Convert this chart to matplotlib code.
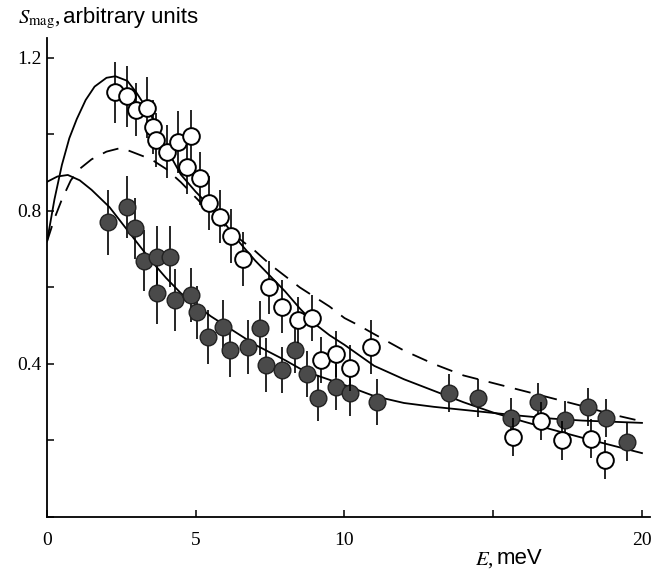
import matplotlib
matplotlib.use("Agg")
import matplotlib.pyplot as plt

plt.rcParams['font.family'] = ['Liberation Serif', 'DejaVu Serif']
plt.rcParams['mathtext.fontset'] = 'stix'

# open circles (E in meV, S_mag)
open_E = [2.3, 2.7, 3.0, 3.35, 3.55, 3.65, 4.05, 4.4, 4.85, 4.7, 5.15, 5.45, 5.8, 6.2,
          6.6, 7.45, 7.9, 8.45, 8.9, 9.2, 9.7, 10.2, 10.9, 15.65, 16.6, 17.3, 18.3, 18.75]
open_S = [1.11, 1.10, 1.065, 1.07, 1.02, 0.985, 0.955, 0.98, 0.995, 0.915, 0.885, 0.82,
          0.785, 0.735, 0.675, 0.60, 0.55, 0.515, 0.52, 0.41, 0.425, 0.39, 0.445, 0.21,
          0.25, 0.20, 0.205, 0.15]
open_err = [0.08, 0.08, 0.07, 0.08, 0.07, 0.07, 0.07, 0.08, 0.07, 0.07, 0.07, 0.07, 0.07,
            0.07, 0.07, 0.07, 0.07, 0.06, 0.06, 0.06, 0.06, 0.06, 0.07, 0.05, 0.05, 0.05,
            0.05, 0.05]

# filled circles
filled_E = [2.05, 2.7, 2.95, 3.25, 3.7, 4.15, 3.7, 4.3, 4.85, 5.05, 5.4, 5.9, 6.15, 6.75,
            7.15, 7.35, 7.9, 8.35, 8.75, 9.1, 9.7, 10.2, 11.1, 13.5, 14.5, 15.6, 16.5,
            17.4, 18.2, 18.8, 19.5]
filled_S = [0.77, 0.81, 0.755, 0.67, 0.68, 0.68, 0.585, 0.567, 0.58, 0.535, 0.47, 0.497,
            0.437, 0.444, 0.494, 0.397, 0.384, 0.437, 0.373, 0.311, 0.34, 0.325, 0.30,
            0.325, 0.312, 0.26, 0.30, 0.254, 0.287, 0.259, 0.196]
filled_err = [0.085, 0.08, 0.08, 0.08, 0.08, 0.08, 0.08, 0.08, 0.07, 0.07, 0.07, 0.07,
              0.07, 0.07, 0.07, 0.07, 0.06, 0.06, 0.06, 0.06, 0.06, 0.06, 0.06, 0.05,
              0.05, 0.05, 0.05, 0.05, 0.05, 0.05, 0.05]

# theory curves
upper_E = [0, 0.25, 0.5, 0.75, 1.0, 1.3, 1.6, 2.0, 2.3, 2.7, 3.0, 3.5, 4.0, 4.5, 5.0, 5.5,
           6.0, 6.5, 7.0, 7.5, 8.0, 8.5, 9.0, 9.5, 10, 11, 12, 13, 14, 15, 16, 17, 18, 19, 20]
upper_S = [0.72, 0.83, 0.92, 0.99, 1.04, 1.09, 1.125, 1.148, 1.152, 1.14, 1.11, 1.05,
           0.965, 0.895, 0.85, 0.81, 0.765, 0.715, 0.67, 0.63, 0.59, 0.545, 0.505, 0.475,
           0.45, 0.395, 0.36, 0.33, 0.30, 0.273, 0.25, 0.228, 0.207, 0.187, 0.167]

dash_E = [0, 0.25, 0.5, 0.8, 1.1, 1.5, 2.0, 2.5, 3.0, 3.5, 4.0, 4.5, 5, 5.5, 6, 6.5, 7,
          7.5, 8, 8.5, 9, 9.5, 10, 10.5, 11, 12, 13, 14, 15, 16, 17, 18, 19, 20]
dash_S = [0.72, 0.78, 0.83, 0.88, 0.91, 0.935, 0.955, 0.965, 0.95, 0.935, 0.91, 0.875,
          0.835, 0.795, 0.76, 0.725, 0.695, 0.66, 0.63, 0.6, 0.575, 0.55, 0.52, 0.5,
          0.478, 0.435, 0.40, 0.37, 0.35, 0.33, 0.31, 0.29, 0.268, 0.25]

lower_E = [0, 0.35, 0.7, 1.1, 1.5, 2.1, 2.5, 3, 3.5, 4, 4.5, 5, 5.5, 6, 6.5, 7, 7.5, 8,
           8.5, 9, 10, 11, 12, 13, 14, 15, 16, 17, 18, 19, 20]
lower_S = [0.876, 0.89, 0.894, 0.88, 0.855, 0.81, 0.77, 0.72, 0.67, 0.625, 0.585, 0.555,
           0.525, 0.50, 0.475, 0.45, 0.43, 0.41, 0.388, 0.372, 0.345, 0.316, 0.298, 0.288,
           0.28, 0.272, 0.264, 0.257, 0.252, 0.249, 0.246]

fig = plt.figure(figsize=(6.52, 5.77), dpi=100)
ax = fig.add_axes([47 / 652, 60 / 577, 603 / 652, 479 / 577])

ax.plot(upper_E, upper_S, color='black', lw=1.3, zorder=2)
ax.plot(lower_E, lower_S, color='black', lw=1.3, zorder=2)
ax.plot(dash_E, dash_S, color='black', lw=1.3, dashes=(9, 6), zorder=2)

ax.errorbar(filled_E, filled_S, yerr=filled_err, fmt='o', ms=12, mfc='#4a4a4a',
            mec='#222222', mew=1.0, ecolor='black', elinewidth=1.2, capsize=0, zorder=3)
ax.errorbar(open_E, open_S, yerr=open_err, fmt='o', ms=12, mfc='white',
            mec='black', mew=1.4, ecolor='black', elinewidth=1.2, capsize=0, zorder=4)

ax.set_xlim(0, 20.27)
ax.set_ylim(0, 1.252)
ax.spines['top'].set_visible(False)
ax.spines['right'].set_visible(False)
ax.spines['left'].set_linewidth(1.3)
ax.spines['bottom'].set_linewidth(1.3)

ax.set_xticks([0, 5, 10, 15, 20])
ax.set_xticklabels(['0', '5', '10', '', '20'])
ax.set_yticks([0, 0.2, 0.4, 0.6, 0.8, 1.0, 1.2])
ax.set_yticklabels(['', '', '0.4', '', '0.8', '', '1.2'])
ax.tick_params(axis='both', direction='in', length=5, width=1.1, labelsize=14)
ax.tick_params(axis='x', pad=11)
ax.tick_params(axis='y', pad=4)

# axis titles
fig.text(18 / 652, 1 - 20 / 577, r'$S_{\rm mag}$,', fontsize=15, va='center', ha='left')
fig.text(63 / 652, 1 - 18 / 577, 'arbitrary units', fontsize=16, va='center', ha='left',
         family=['Liberation Sans', 'DejaVu Sans'])
fig.text(475 / 652, 1 - 560 / 577, r'$E$,', fontsize=15, va='center', ha='left')
fig.text(497 / 652, 1 - 558 / 577, 'meV', fontsize=16, va='center', ha='left',
         family=['Liberation Sans', 'DejaVu Sans'])

fig.savefig('out.png', dpi=100)
